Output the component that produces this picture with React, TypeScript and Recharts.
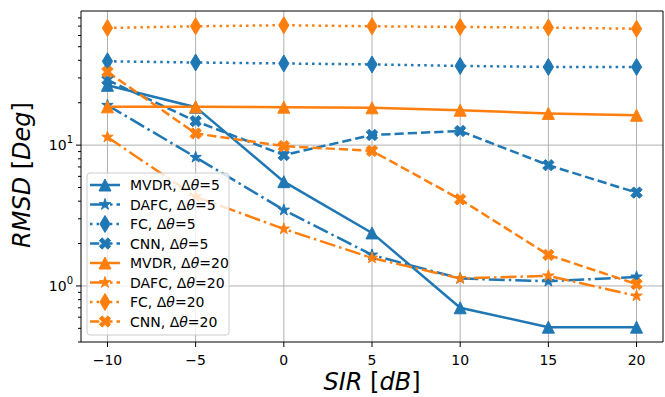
import React from 'react';
import { LineChart, Line, XAxis, YAxis, CartesianGrid, ReferenceArea } from 'recharts';

const BLUE = '#1f77b4';
const ORANGE = '#ff7f0e';
const FONT = '"DejaVu Sans", sans-serif';

const sir = [-10, -5, 0, 5, 10, 15, 20];

// RMSD values
const mvdr5 = [26.6, 18.6, 5.5, 2.38, 0.7, 0.51, 0.51];
const dafc5 = [19.2, 8.2, 3.46, 1.66, 1.13, 1.08, 1.16];
const fc5 = [39.4, 38.6, 38.0, 37.4, 36.5, 35.9, 35.9];
const cnn5 = [29.0, 14.8, 8.5, 11.8, 12.6, 7.2, 4.6];
const mvdr20 = [18.7, 18.7, 18.6, 18.4, 17.7, 16.8, 16.3];
const dafc20 = [11.4, 4.3, 2.54, 1.58, 1.13, 1.18, 0.85];
const fc20 = [67.9, 69.8, 71.0, 69.8, 69.0, 68.3, 67.0];
const cnn20 = [33.1, 12.1, 9.84, 9.1, 4.12, 1.66, 1.03];

const xTicks = [-10, -5, 0, 5, 10, 15, 20];
const yMajor = [1, 10];
const yExp = ['0', '1'];
const yMinor = [0.4, 0.5, 0.6, 0.7, 0.8, 0.9, 2, 3, 4, 5, 6, 7, 8, 9, 20, 30, 40, 50, 60, 70, 80];
const yTicks = [...yMinor, ...yMajor].sort((a, b) => a - b);

const data = sir.map((s, i) => ({
  sir: s,
  mvdr5: mvdr5[i],
  dafc5: dafc5[i],
  fc5: fc5[i],
  cnn5: cnn5[i],
  mvdr20: mvdr20[i],
  dafc20: dafc20[i],
  fc20: fc20[i],
  cnn20: cnn20[i],
}));

type Shape = 'triangle' | 'star' | 'diamond' | 'x';

const DASHED = '9.25 4';
const DASHDOT = '16 4 2.5 4';
const DOTTED = '2.5 4.1';

const series: { key: string; name: string; delta: string; color: string; dash?: string; shape: Shape }[] = [
  { key: 'mvdr5', name: 'MVDR', delta: '5', color: BLUE, shape: 'triangle' },
  { key: 'dafc5', name: 'DAFC', delta: '5', color: BLUE, dash: DASHDOT, shape: 'star' },
  { key: 'fc5', name: 'FC', delta: '5', color: BLUE, dash: DOTTED, shape: 'diamond' },
  { key: 'cnn5', name: 'CNN', delta: '5', color: BLUE, dash: DASHED, shape: 'x' },
  { key: 'mvdr20', name: 'MVDR', delta: '20', color: ORANGE, shape: 'triangle' },
  { key: 'dafc20', name: 'DAFC', delta: '20', color: ORANGE, dash: DASHDOT, shape: 'star' },
  { key: 'fc20', name: 'FC', delta: '20', color: ORANGE, dash: DOTTED, shape: 'diamond' },
  { key: 'cnn20', name: 'CNN', delta: '20', color: ORANGE, dash: DASHED, shape: 'x' },
];

const MS = 12;

const poly = (pts: number[][]) => 'M' + pts.map((p) => `${p[0].toFixed(2)},${p[1].toFixed(2)}`).join('L') + 'Z';

const markerPath = (shape: Shape) => {
  const h = MS / 2;
  if (shape === 'triangle') return poly([[0, -h], [-h, h], [h, h]]);
  if (shape === 'diamond') {
    const r = 0.707 * MS;
    return poly([[0, -r], [0.6 * r, 0], [0, r], [-0.6 * r, 0]]);
  }
  if (shape === 'star') {
    const pts: number[][] = [];
    for (let i = 0; i < 10; i++) {
      const r = i % 2 === 0 ? h : h * 0.381966;
      const a = -Math.PI / 2 + (i * Math.PI) / 5;
      pts.push([r * Math.cos(a), r * Math.sin(a)]);
    }
    return poly(pts);
  }
  const base = [
    [-1, -3], [1, -3], [1, -1], [3, -1], [3, 1], [1, 1],
    [1, 3], [-1, 3], [-1, 1], [-3, 1], [-3, -1], [-1, -1],
  ];
  const c = Math.SQRT1_2;
  return poly(base.map(([x, y]) => [((x - y) * c * MS) / 6, ((x + y) * c * MS) / 6]));
};

const Marker = ({ cx, cy, shape, color }: { cx?: number; cy?: number; shape: Shape; color: string }) => {
  if (cx == null || cy == null) return null;
  return (
    <path d={markerPath(shape)} transform={`translate(${cx},${cy})`} fill={color} stroke={color} strokeWidth={1} strokeLinejoin="miter" />
  );
};

const XTick = (props: any) => {
  const { x, y, payload } = props;
  return (
    <g>
      <line x1={x} x2={x} y1={y} y2={y + 5} stroke="#000" strokeWidth={1} />
      <text x={x} y={y + 23} textAnchor="middle" fontSize={14} fill="#000" fontFamily={FONT}>
        {String(payload.value).replace('-', '\u2212')}
      </text>
    </g>
  );
};

const YTick = (props: any) => {
  const { x, y, payload } = props;
  const idx = yMajor.indexOf(payload.value);
  const major = idx >= 0;
  return (
    <g>
      <line x1={x} x2={x - (major ? 5 : 3)} y1={y} y2={y} stroke="#000" strokeWidth={1} />
      {major && (
        <text x={x - 8} y={y + 5} textAnchor="end" fontSize={14} fill="#000" fontFamily={FONT}>
          10
          <tspan dy={-7} fontSize={10}>
            {yExp[idx]}
          </tspan>
        </text>
      )}
    </g>
  );
};

const LegendBox = () => (
  <svg width={144} height={164} style={{ position: 'absolute', left: 86, top: 172 }}>
    <rect x={1} y={1} width={142} height={162} rx={3} fill="rgba(255,255,255,0.8)" stroke="#cccccc" strokeWidth={1} />
    {series.map((s, i) => {
      const cy = 13 + i * 19.5;
      return (
        <g key={s.key}>
          <line x1={4} x2={34} y1={cy} y2={cy} stroke={s.color} strokeWidth={2.5} strokeDasharray={s.dash} />
          <Marker cx={19} cy={cy} shape={s.shape} color={s.color} />
          <text x={44} y={cy + 5} fontSize={14} fill="#000" fontFamily={FONT}>
            {s.name}, {'\u0394'}
            <tspan fontStyle="italic">{'\u03b8'}</tspan>={s.delta}
          </text>
        </g>
      );
    })}
  </svg>
);

export default function App() {
  return (
    <div style={{ position: 'absolute', left: 0, top: 0, width: 665, height: 397, background: '#fff' }}>
      <LineChart width={665} height={397} data={data} margin={{ top: 11, right: 2, bottom: 0, left: 0 }}>
        <CartesianGrid stroke="#b0b0b0" strokeWidth={1} horizontalValues={yMajor} verticalValues={xTicks} />
        <XAxis
          dataKey="sir"
          type="number"
          domain={[-11.5, 21.5]}
          allowDataOverflow
          ticks={xTicks}
          tick={<XTick />}
          tickLine={false}
          axisLine={false}
          tickSize={0}
          tickMargin={0}
          height={55}
          interval={0}
          label={{
            content: () => (
              <text x={372} y={390} textAnchor="middle" fontSize={24} fill="#000" fontFamily={FONT}>
                <tspan fontStyle="italic">SIR</tspan> [<tspan fontStyle="italic">dB</tspan>]
              </text>
            ),
          }}
        />
        <YAxis
          type="number"
          scale="log"
          domain={[0.4, 89.6]}
          allowDataOverflow
          ticks={yTicks}
          tick={<YTick />}
          tickLine={false}
          axisLine={false}
          tickSize={0}
          tickMargin={0}
          width={81}
          interval={0}
          label={{
            content: () => (
              <text x={30} y={175} transform="rotate(-90 30 175)" textAnchor="middle" fontSize={24} fill="#000" fontFamily={FONT}>
                <tspan fontStyle="italic">RMSD</tspan> [<tspan fontStyle="italic">Deg</tspan>]
              </text>
            ),
          }}
        />
        {series.map((s) => (
          <Line
            key={s.key}
            dataKey={s.key}
            type="linear"
            stroke={s.color}
            strokeWidth={2.5}
            strokeDasharray={s.dash}
            isAnimationActive={false}
            activeDot={false}
            dot={(p: any) => <Marker key={`${s.key}-${p.index}`} cx={p.cx} cy={p.cy} shape={s.shape} color={s.color} />}
          />
        ))}
        <ReferenceArea x1={-11.5} x2={21.5} y1={0.4} y2={89.6} fill="none" stroke="#000" strokeWidth={1} ifOverflow="visible" />
      </LineChart>
      <LegendBox />
    </div>
  );
}
